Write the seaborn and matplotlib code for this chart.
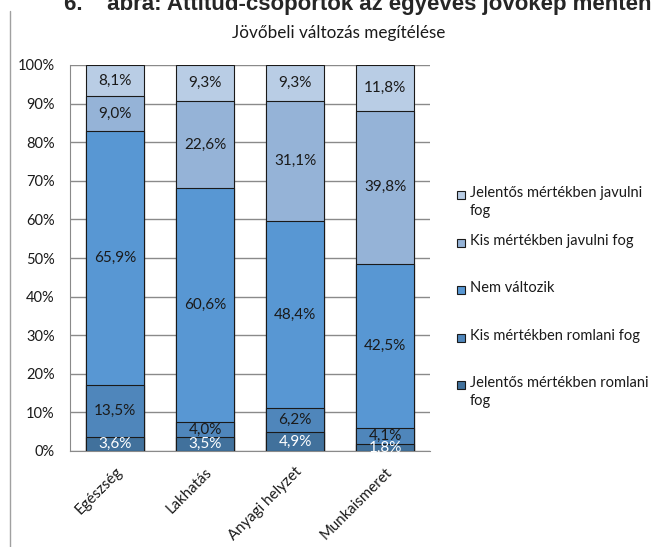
import numpy as np
import pandas as pd
import seaborn as sns
import matplotlib.pyplot as plt
from matplotlib.patches import Rectangle
from matplotlib.lines import Line2D

categories = ['Egészség', 'Lakhatás', 'Anyagi helyzet', 'Munkaismeret']
# stack order: bottom -> top
series_names = ['Jelentős mértékben romlani\nfog', 'Kis mértékben romlani fog',
                'Nem változik', 'Kis mértékben javulni fog',
                'Jelentős mértékben javulni\nfog']
jelentos_romlani = [3.6, 3.5, 4.9, 1.8]
kis_romlani = [13.5, 4.0, 6.2, 4.1]
nem_valtozik = [65.9, 60.6, 48.4, 42.5]
kis_javulni = [9.0, 22.6, 31.1, 39.8]
jelentos_javulni = [8.1, 9.3, 9.3, 11.8]
colors = ['#41719C', '#4F86BB', '#5897D3', '#95B3D7', '#B9CDE5']
label_colors = ['white', '#1a1a1a', '#1a1a1a', '#1a1a1a', '#1a1a1a']

sns.set_style('white')
plt.rcParams['font.family'] = ['Lato', 'DejaVu Sans']

values = np.array([jelentos_romlani, kis_romlani, nem_valtozik,
                   kis_javulni, jelentos_javulni])
shares = values / values.sum(axis=0) * 100
cum = shares.cumsum(axis=0)

W, H = 659, 547
fig = plt.figure(figsize=(W / 100, H / 100), dpi=100)
ax = fig.add_axes([70 / W, 1 - 451 / H, 360 / W, 386 / H])

# cumulative bars, tallest first, so each layer covers the one below
for i in range(len(series_names) - 1, -1, -1):
    df = pd.DataFrame({'kat': categories, 'ertek': cum[i]})
    sns.barplot(data=df, x='kat', y='ertek', order=categories, color=colors[i],
                saturation=1, width=0.64, edgecolor='#1a1a1a', linewidth=0.8,
                ax=ax, zorder=3)

for i in range(len(series_names)):
    for j in range(len(categories)):
        mid = cum[i][j] - shares[i][j] / 2
        ax.text(j, mid, f'{values[i][j]:.1f}%'.replace('.', ','),
                ha='center', va='center', fontsize=11, color=label_colors[i],
                zorder=5)

ax.set_ylim(0, 100)
ax.set_xlim(-0.5, 3.5)
ax.set_yticks(range(0, 101, 10))
ax.set_yticklabels([f'{t}%' for t in range(0, 101, 10)])
ax.yaxis.grid(True, color='#8a8a8a', linewidth=1)
ax.set_axisbelow(True)
ax.set_xlabel('')
ax.set_ylabel('')
for s in ['top', 'right']:
    ax.spines[s].set_visible(False)
for s in ['left', 'bottom']:
    ax.spines[s].set_color('#8a8a8a')
ax.tick_params(axis='both', length=0, labelsize=10.5, colors='#1a1a1a')
ax.tick_params(axis='y', pad=11)
ax.tick_params(axis='x', pad=10, labelsize=10.8)
for lbl in ax.get_xticklabels():
    lbl.set_rotation(45)
    lbl.set_ha('right')
    lbl.set_rotation_mode('anchor')

# legend, drawn by hand to keep Excel-like even spacing
leg_y = [385, 338, 290, 243, 195]
for i in range(len(series_names)):
    y = leg_y[i]
    fig.add_artist(Rectangle((457 / W, 1 - (y + 4) / H), 8 / W, 8 / H,
                             facecolor=colors[i], edgecolor='#1a1a1a',
                             linewidth=0.8, transform=fig.transFigure))
    fig.text(470 / W, 1 - (y - 9) / H, series_names[i], ha='left', va='top',
             fontsize=10.5, color='#1a1a1a', linespacing=1.35)

fig.text(339 / W, 1 - 33 / H, 'Jövőbeli változás megítélése', ha='center',
         va='center', fontsize=12.3, color='#1a1a1a')
fig.text(64 / W, 1 - 10 / H,
         '6.    ábra: Attitűd-csoportok az egyéves jövőkép mentén',
         ha='left', va='baseline', fontsize=16, fontweight='bold',
         family='Liberation Sans')
fig.add_artist(Line2D([10 / W, 10 / W], [0, 1 - 11 / H],
                      color='#a0a0a0', linewidth=1))

plt.savefig('out.png', dpi=100)
